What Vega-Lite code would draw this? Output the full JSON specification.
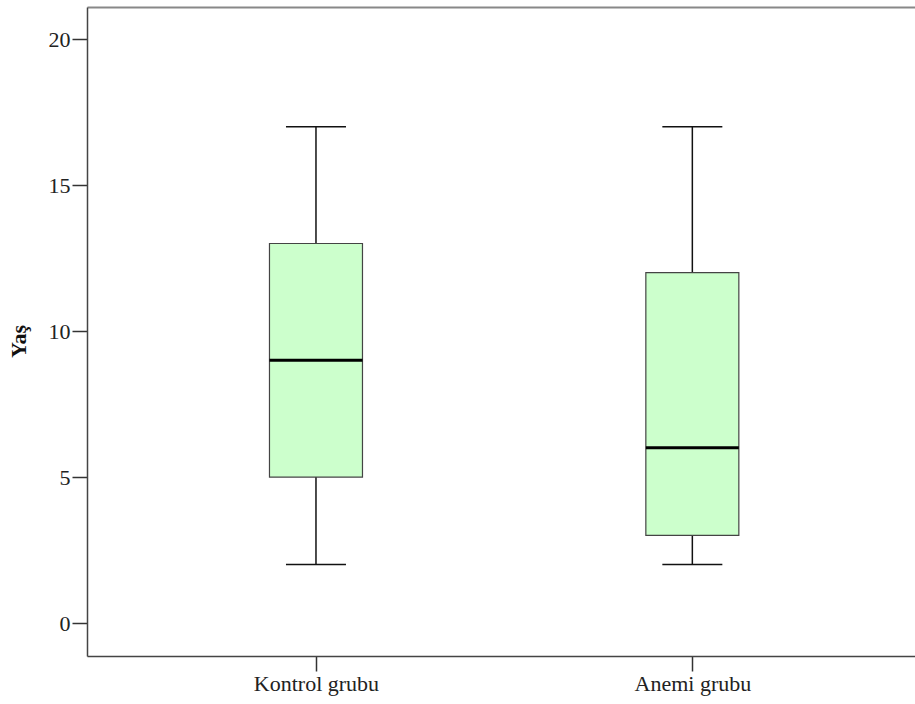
{
  "$schema": "https://vega.github.io/schema/vega-lite/v6.json",
  "autosize": {"type": "none"},
  "padding": {"left": 87, "top": 7, "right": 0, "bottom": 48},
  "width": 828,
  "height": 649,
  "background": "white",
  "config": {
    "view": {"stroke": null},
    "font": "Liberation Serif"
  },
  "data": {
    "values": [
      {"group": "Kontrol grubu", "min": 2, "q1": 5, "median": 9, "q3": 13, "max": 17},
      {"group": "Anemi grubu", "min": 2, "q1": 3, "median": 6, "q3": 12, "max": 17}
    ]
  },
  "resolve": {"axis": {"x": "independent"}},
  "layer": [
    {
      "mark": {"type": "rule", "color": "#111111", "strokeWidth": 1.5},
      "encoding": {
        "x": {
          "field": "group",
          "type": "nominal",
          "sort": ["Kontrol grubu", "Anemi grubu"],
          "scale": {"type": "point", "padding": 0.6, "align": 0.507},
          "axis": {
            "title": null,
            "labelAngle": 0,
            "labelFont": "Liberation Serif",
            "labelFontSize": 22,
            "labelColor": "#222222",
            "labelPadding": 2,
            "tickSize": 15,
            "tickColor": "#333333",
            "tickWidth": 1.5,
            "domainColor": "#444444",
            "domainWidth": 1.5
          }
        },
        "y": {
          "field": "min",
          "type": "quantitative",
          "scale": {"domain": [-1.13, 21.1], "nice": false, "zero": false},
          "axis": {
            "title": "Yaş",
            "titleFont": "Liberation Serif",
            "titleFontSize": 22,
            "titleFontWeight": "bold",
            "titleColor": "#111111",
            "titlePadding": 18,
            "titleY": 334,
            "values": [0, 5, 10, 15, 20],
            "grid": false,
            "labelFont": "Liberation Serif",
            "labelFontSize": 22,
            "labelColor": "#222222",
            "labelPadding": 2,
            "tickSize": 15,
            "tickColor": "#333333",
            "tickWidth": 1.5,
            "domainColor": "#444444",
            "domainWidth": 1.5
          }
        },
        "y2": {"field": "max"}
      }
    },
    {
      "mark": {"type": "tick", "color": "#111111", "opacity": 1, "thickness": 1.5, "size": 60},
      "encoding": {
        "x": {
          "field": "group",
          "type": "nominal",
          "sort": ["Kontrol grubu", "Anemi grubu"],
          "axis": {"orient": "top", "title": null, "labels": false, "ticks": false, "domainColor": "#888888", "domainWidth": 2}
        },
        "y": {"field": "min", "type": "quantitative"}
      }
    },
    {
      "mark": {"type": "tick", "color": "#111111", "opacity": 1, "thickness": 1.5, "size": 60},
      "encoding": {"x": {"field": "group", "type": "nominal", "sort": ["Kontrol grubu", "Anemi grubu"], "axis": null}, "y": {"field": "max", "type": "quantitative"}}
    },
    {
      "mark": {"type": "bar", "size": 93, "fill": "#ccffcc", "opacity": 1, "stroke": "#444444", "strokeWidth": 1.2},
      "encoding": {
        "x": {"field": "group", "type": "nominal", "sort": ["Kontrol grubu", "Anemi grubu"], "axis": null},
        "y": {"field": "q1", "type": "quantitative"},
        "y2": {"field": "q3"}
      }
    },
    {
      "mark": {"type": "tick", "color": "#000000", "opacity": 1, "thickness": 3, "size": 93},
      "encoding": {"x": {"field": "group", "type": "nominal", "sort": ["Kontrol grubu", "Anemi grubu"], "axis": null}, "y": {"field": "median", "type": "quantitative"}}
    }
  ]
}
